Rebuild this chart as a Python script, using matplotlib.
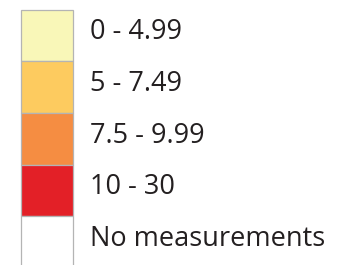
import matplotlib.pyplot as plt
import numpy as np

# legend classes
labels = ['0 - 4.99', '5 - 7.49', '7.5 - 9.99', '10 - 30', 'No measurements']
colors = ['#F9F7B8', '#FDCB5F', '#F58D42', '#E32027', '#FFFFFF']

plt.rcParams['font.family'] = ['Open Sans', 'DejaVu Sans']

fig = plt.figure(figsize=(3.58, 2.65), dpi=100)
ax = fig.add_axes([0, 0, 1, 1])
ax.set_xlim(0, 358)
ax.set_ylim(265, 0)
ax.axis('off')

top = 9.5
row_h = 51.7
centers = top + row_h * (np.arange(len(labels)) + 0.5)

# the last swatch runs off the bottom edge
heights = [row_h] * (len(labels) - 1) + [row_h + 10]
ys = [c if i < len(labels) - 1 else c + 5 for i, c in enumerate(centers)]
ax.barh(ys, 52, left=21, height=heights, color=colors,
        edgecolor='#B4B4B4', linewidth=0.9, clip_on=True)

for c, lab in zip(centers, labels):
    ax.text(90, c - 3, lab, va='center', ha='left', fontsize=19.5,
            color='#231F20', stretch='normal')

fig.savefig('out.png', dpi=100)
